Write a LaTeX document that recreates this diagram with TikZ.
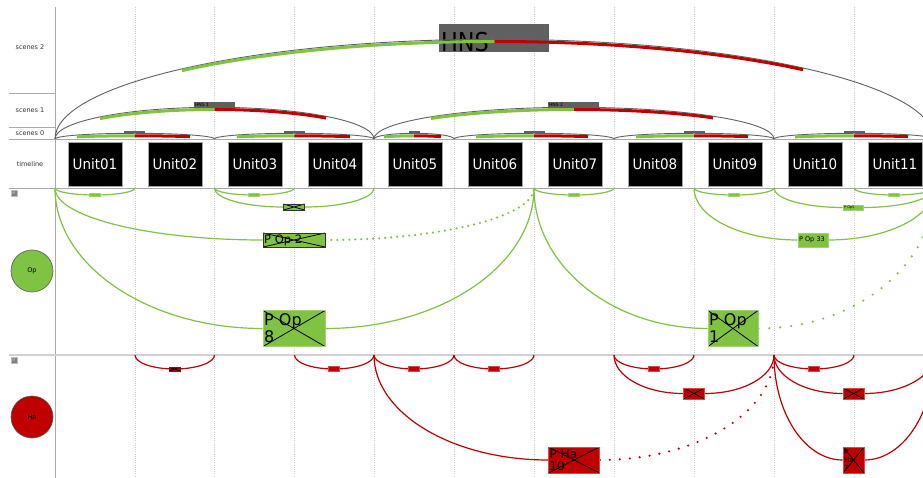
\documentclass[tikz,border=0pt]{standalone}
\usepackage{fontspec}
\setmainfont{DejaVu Sans}
\definecolor{opg}{RGB}{128,195,66}
\definecolor{har}{RGB}{192,0,0}
\definecolor{gbar}{RGB}{96,96,96}
\definecolor{gline}{RGB}{170,170,170}
\pgfdeclarelayer{bgw}\pgfdeclarelayer{grid}\pgfdeclarelayer{conn}\pgfsetlayers{bgw,grid,conn,main}
\newcommand\cnL[5]{\draw[#1] (#2) .. controls +(0,{0.552*#5}) and +({-0.552*#4},0) .. (#3);}
\newcommand\cnR[5]{\draw[#1] (#2) .. controls +({0.552*#4},0) and +(0,{0.552*#5}) .. (#3);}
\newcommand\scnbar[6]{%
  \pgfmathsetmacro\scnA{acos((#4-(#1))/(#2))}%
  \pgfmathsetmacro\scnB{acos((#5-(#1))/(#2))}%
  \draw[#6,line width=3pt] ({#1+#2*cos(\scnA)},{139-#3*sin(\scnA)}) arc[start angle=\scnA,end angle=\scnB,x radius=#2pt,y radius=#3pt];}
\begin{document}
\begin{tikzpicture}[x=1pt,y=-1pt,
  rowlbl/.style={font=\fontsize{6.5}{6.5}\selectfont,text=black!80},
  unitbox/.style={fill=black,draw=gray!70,line width=0.8pt,minimum width=54pt,minimum height=44pt,inner sep=0pt,text=white,font=\fontsize{14.5}{14.5}\selectfont},
  gridl/.style={gray!40,line width=0.6pt,dash pattern=on 1pt off 1.2pt},
  scn/.style={black!62,line width=0.9pt},
  gmark/.style={fill=gbar,inner sep=0pt,minimum height=2.6pt},
  hmark/.style={fill=gbar,inner sep=0pt,minimum height=6pt,text=black,font=\fontsize{4.5}{4.5}\selectfont,align=left},
  obar/.style={fill=opg,draw=opg!75!white,line width=0.4pt,minimum width=11pt,minimum height=3pt,inner sep=0pt},
  hbar/.style={fill=har,draw=har!70!white,line width=0.4pt,minimum width=11pt,minimum height=5pt,inner sep=0pt},
  xbox/.style={path picture={\draw[black,line width=0.8pt] (path picture bounding box.north west) -- (path picture bounding box.south east) (path picture bounding box.north east) -- (path picture bounding box.south west);}},
  ogbox/.style={fill=opg,draw=opg!75!white,line width=0.6pt,inner sep=0pt,align=left},
  hrbox/.style={fill=har,draw=har!70!white,line width=0.6pt,inner sep=0pt,align=left},
  dkedge/.style={draw=black!80},
  ol/.style={opg,line width=1.2pt},
  hl/.style={har,line width=1.2pt},
  dotg/.style={opg,line width=2.4pt,line cap=round,dash pattern=on 0pt off 6pt},
  dotg2/.style={opg,line width=2.4pt,line cap=round,dash pattern=on 0pt off 11pt},
  doth/.style={har,line width=2.4pt,line cap=round,dash pattern=on 0pt off 10pt},
  mbox/.style={fill=black!50,draw=black!25,line width=0.4pt,minimum size=6pt,inner sep=0pt,text=black!20,font=\fontsize{3.5}{3.5}\selectfont}
]
\useasboundingbox (0,0) rectangle (923,478);
\begin{pgfonlayer}{bgw}
\fill[white] (0,0) rectangle (923,478);
\end{pgfonlayer}

% grid and frame
\begin{pgfonlayer}{grid}
\foreach \x in {135,214.5,294.5,374,454,534,614,694,774,854} \draw[gridl] (\x,7) -- (\x,478);
\draw[gline,line width=0.8pt] (55,7) -- (55,478);
\draw[gline,line width=0.8pt] (9,93) -- (55,93);
\draw[gline,line width=0.8pt] (9,127) -- (55,127);
\draw[gline,line width=0.8pt] (9,139) -- (923,139);
\draw[gline,line width=0.8pt] (9,188) -- (923,188);
\draw[black!18,line width=2pt] (9,355) -- (923,355);
\end{pgfonlayer}

% boundary coordinates
\foreach \x/\n in {55/0,135/1,214.5/2,294.5/3,374/4,454/5,534/6,614/7,694/8,774/9,854/10,934/11} {
  \coordinate (s\n) at (\x,139);
  \coordinate (o\n) at (\x,188);
  \coordinate (h\n) at (\x,355);
}

% row labels
\node[rowlbl] (l2) at (30,47) {scenes 2};
\node[rowlbl] (l1) at (30,110) {scenes 1};
\node[rowlbl] (l0) at (30,133) {scenes 0};
\node[rowlbl] (lt) at (30,164) {timeline};

% units
\node[unitbox] (u1) at (95,164) {\scalebox{0.93}[1]{Unit01}};
\node[unitbox] (u2) at (175,164) {\scalebox{0.93}[1]{Unit02}};
\node[unitbox] (u3) at (255,164) {\scalebox{0.93}[1]{Unit03}};
\node[unitbox] (u4) at (335,164) {\scalebox{0.93}[1]{Unit04}};
\node[unitbox] (u5) at (415,164) {\scalebox{0.93}[1]{Unit05}};
\node[unitbox] (u6) at (495,164) {\scalebox{0.93}[1]{Unit06}};
\node[unitbox] (u7) at (575,164) {\scalebox{0.93}[1]{Unit07}};
\node[unitbox] (u8) at (655,164) {\scalebox{0.93}[1]{Unit08}};
\node[unitbox] (u9) at (735,164) {\scalebox{0.93}[1]{Unit09}};
\node[unitbox] (u10) at (815,164) {\scalebox{0.93}[1]{Unit10}};
\node[unitbox] (u11) at (895,164) {\scalebox{0.93}[1]{Unit11}};

% scene markers
\node[gmark,minimum width=21pt] (g0) at (134.75,132) {};
\node[gmark,minimum width=21pt] (g1) at (294.25,132) {};
\node[gmark,minimum width=11pt] (g2) at (414,132) {};
\node[gmark,minimum width=21pt] (g3) at (534,132) {};
\node[gmark,minimum width=21pt] (g4) at (694,132) {};
\node[gmark,minimum width=21pt] (g5) at (854,132) {};
\node[hmark,minimum width=41pt,text width=39pt] (hns1) at (214.5,105) {HNS 1};
\node[hmark,minimum width=51pt,text width=49pt] (hns2) at (573.5,105) {HNS 2};
\node[fill=gbar,inner sep=0pt,minimum width=110pt,minimum height=28pt,font=\fontsize{26}{26}\selectfont] (hns) at (494,38)
  {\raisebox{-7pt}[13pt][0pt]{\makebox[106pt][l]{\scalebox{0.86}[1]{HNS}}}};

% scene arcs
\draw[scn] (s0) arc[start angle=180,end angle=0,x radius=79.75pt,y radius=5.7pt];
\draw[scn] (s2) arc[start angle=180,end angle=0,x radius=79.75pt,y radius=5.7pt];
\draw[scn] (s4) arc[start angle=180,end angle=0,x radius=40pt,y radius=5.7pt];
\draw[scn] (s5) arc[start angle=180,end angle=0,x radius=80pt,y radius=5.7pt];
\draw[scn] (s7) arc[start angle=180,end angle=0,x radius=80pt,y radius=5.7pt];
\draw[scn] (s9) arc[start angle=180,end angle=0,x radius=80pt,y radius=5.7pt];
\draw[scn] (s0) arc[start angle=180,end angle=0,x radius=159.5pt,y radius=31.7pt];
\draw[scn] (s4) arc[start angle=180,end angle=0,x radius=200pt,y radius=31.7pt];
\draw[scn] (s0) arc[start angle=180,end angle=0,x radius=439.5pt,y radius=99.7pt];

% scene bars
\scnbar{134.75}{78.75}{3.2}{77}{134.75}{opg}
\scnbar{134.75}{78.75}{3.2}{134.75}{190}{har}
\scnbar{294.25}{78.75}{3.2}{237}{294.25}{opg}
\scnbar{294.25}{78.75}{3.2}{294.25}{350}{har}
\scnbar{414}{39}{3.2}{384}{414}{opg}
\scnbar{414}{39}{3.2}{414}{441}{har}
\scnbar{534}{79}{3.2}{476}{534}{opg}
\scnbar{534}{79}{3.2}{534}{588}{har}
\scnbar{694}{79}{3.2}{636}{694}{opg}
\scnbar{694}{79}{3.2}{694}{748}{har}
\scnbar{854}{79}{3.2}{795}{854}{opg}
\scnbar{854}{79}{3.2}{854}{908}{har}
\scnbar{214.5}{158.5}{29.5}{100}{214.5}{opg}
\scnbar{214.5}{158.5}{29.5}{214.5}{326}{har}
\scnbar{574}{199}{29.5}{431}{574}{opg}
\scnbar{574}{199}{29.5}{574}{713}{har}
\scnbar{494.5}{438.5}{97.5}{182}{494.5}{opg}
\scnbar{494.5}{438.5}{97.5}{494.5}{803}{har}

% M markers and lane circles
\node[mbox] (m1) at (14,193.5) {M};
\node[mbox] (m2) at (14,360) {M};
\node[circle,fill=opg,draw=black!65,line width=0.6pt,minimum size=42pt,inner sep=0pt,font=\fontsize{6.5}{6.5}\selectfont] (opc) at (32,271) {Op};
\node[circle,fill=har,draw=black!65,line width=0.6pt,minimum size=42pt,inner sep=0pt,font=\fontsize{6.5}{6.5}\selectfont] (hac) at (32,417) {Ha};

% Op nodes
\node[obar] (ob1) at (95,195) {};
\node[obar] (ob2) at (254,195) {};
\node[obar] (ob3) at (574,195) {};
\node[obar] (ob4) at (734,195) {};
\node[obar] (ob5) at (894,195) {};
\node[ogbox,xbox,dkedge,minimum width=21pt,minimum height=6pt] (ox1) at (294,207) {};
\node[ogbox,xbox,dkedge,minimum width=62pt,minimum height=14pt,text width=60pt,font=\fontsize{11.5}{11.5}\selectfont] (pop2) at (294,240) {P Op 2};
\node[ogbox,xbox,minimum width=62pt,minimum height=36pt,text width=60pt,font=\fontsize{16}{17}\selectfont] (pop8) at (294,328.5) {P Op\\8};
\node[ogbox,xbox,minimum width=50pt,minimum height=36pt,text width=48pt,font=\fontsize{16}{17}\selectfont] (pop1) at (733,328.5) {P Op\\1};
\node[ogbox,minimum width=30pt,minimum height=14pt,text width=28pt,font=\fontsize{6.5}{6.5}\selectfont] (pop33) at (813,240) {P Op 33};
\node[ogbox,minimum width=20pt,minimum height=5pt,text width=18pt,font=\fontsize{3.5}{3.5}\selectfont] (pop5) at (853,207.5) {P Op5};

% Ha nodes
\node[hrbox,xbox,dkedge,minimum width=11pt,minimum height=4pt] (hx1) at (174.5,369) {};
\node[hbar] (hb1) at (334,369) {};
\node[hbar] (hb2) at (414,369) {};
\node[hbar] (hb3) at (494,369) {};
\node[hbar] (hb4) at (654,369) {};
\node[hbar] (hb5) at (814,369) {};
\node[hrbox,xbox,minimum width=21pt,minimum height=11pt] (hx2) at (694,393.5) {};
\node[hrbox,xbox,minimum width=21pt,minimum height=11pt] (hx3) at (853.5,393.5) {};
\node[hrbox,xbox,minimum width=51pt,minimum height=26pt,text width=49pt,font=\fontsize{12}{12}\selectfont] (pha10) at (574,460) {P Ha\\10};
\node[hrbox,xbox,minimum width=21pt,minimum height=26pt,text width=19pt,font=\fontsize{7}{8}\selectfont] (pha7) at (853.5,460) {P\\Ha\\7};

% connectors
\begin{pgfonlayer}{conn}
\cnL{ol}{o0}{ob1.center}{40}{7} \cnR{ol}{ob1.center}{o1}{40}{7}
\cnL{ol}{o2}{ob2.center}{40}{7} \cnR{ol}{ob2.center}{o3}{40}{7}
\cnL{ol}{o2}{ox1.west}{69.5}{19} \cnR{ol}{ox1.east}{o4}{69.5}{19}
\cnL{ol}{o0}{pop2.west}{208}{52} \cnR{dotg}{pop2.east}{o6}{209}{52}
\cnL{ol}{o0}{pop8.west}{208}{140} \cnR{ol}{pop8.east}{o6}{209}{140}
\cnL{ol}{o6}{ob3.center}{40}{7} \cnR{ol}{ob3.center}{o7}{40}{7}
\cnL{ol}{o6}{pop1.west}{174}{140} \cnR{dotg2}{pop1.east}{o11}{176}{140}
\cnL{ol}{o8}{ob4.center}{40}{7} \cnR{ol}{ob4.center}{o9}{40}{7}
\cnL{ol}{o8}{pop33.west}{104}{52} \cnR{ol}{pop33.east}{o11}{106}{52}
\cnL{ol}{o9}{pop5.west}{69}{19.5} \cnR{ol}{pop5.east}{o11}{71}{19.5}
\cnL{ol}{o10}{ob5.center}{40}{7} \cnR{ol}{ob5.center}{o11}{40}{7}
\cnL{hl}{h1}{hx1.center}{39.5}{14} \cnR{hl}{hx1.center}{h2}{39.5}{14}
\cnL{hl}{h3}{hb1.center}{40}{14} \cnR{hl}{hb1.center}{h4}{40}{14}
\cnL{hl}{h4}{hb2.center}{40}{14} \cnR{hl}{hb2.center}{h5}{40}{14}
\cnL{hl}{h5}{hb3.center}{40}{14} \cnR{hl}{hb3.center}{h6}{40}{14}
\cnL{hl}{h4}{pha10.west}{174.5}{105} \cnR{doth}{pha10.east}{h9}{174.5}{105}
\cnL{hl}{h7}{hb4.center}{40}{14} \cnR{hl}{hb4.center}{h8}{40}{14}
\cnL{hl}{h7}{hx2.west}{69.5}{38.5} \cnR{hl}{hx2.east}{h9}{69.5}{38.5}
\cnL{hl}{h9}{hb5.center}{40}{14} \cnR{hl}{hb5.center}{h10}{40}{14}
\cnL{hl}{h9}{hx3.west}{69}{38.5} \cnR{hl}{hx3.east}{h11}{70}{38.5}
\cnL{hl}{h9}{pha7.west}{69}{105} \cnR{hl}{pha7.east}{h11}{70}{105}
\end{pgfonlayer}
\end{tikzpicture}
\end{document}
